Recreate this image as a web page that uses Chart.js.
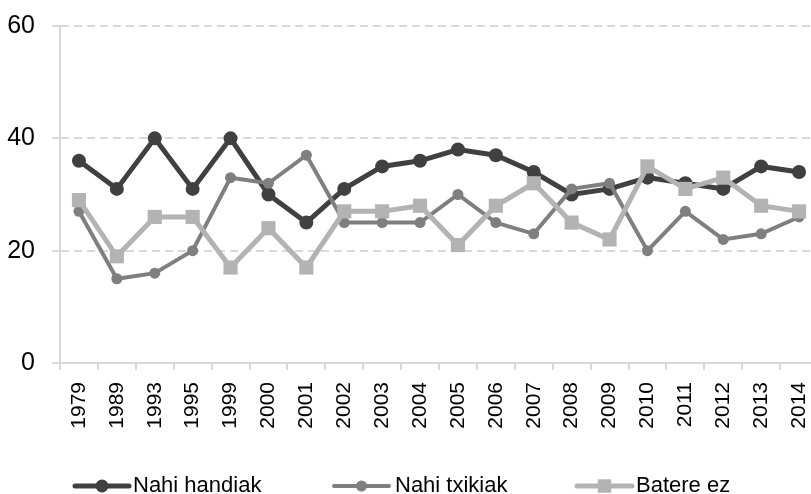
<!DOCTYPE html>
<html>
<head>
<meta charset="utf-8">
<script src="https://cdn.jsdelivr.net/npm/chart.js@4/dist/chart.umd.min.js"></script>
<style>
  html, body { margin: 0; padding: 0; background: #fff; overflow: hidden; }
  #wrap { width: 811px; height: 494px; overflow: hidden; position: relative; }
  #box { width: 820px; height: 494px; position: absolute; left: 0; top: 0; }
</style>
</head>
<body>
<div id="wrap"><div id="box"><canvas id="c"></canvas></div></div>
<script>
const years = ['1979','1989','1993','1995','1999','2000','2001','2002','2003','2004','2005','2006','2007','2008','2009','2010','2011','2012','2013','2014'];
const nahiHandiak = [36,31,40,31,40,30,25,31,35,36,38,37,34,30,31,33,32,31,35,34];
const nahiTxikiak = [27,15,16,20,33,32,37,25,25,25,30,25,23,31,32,20,27,22,23,26];
const batereEz    = [29,19,26,26,17,24,17,27,27,28,21,28,32,25,22,35,31,33,28,27];
const yTicks = [0,20,40,60];

const seriesNames = ['Nahi handiak','Nahi txikiak','Batere ez'];
const colors = ['#404040','#7f7f7f','#b3b3b3'];
const gridColor = '#d9d9d9';
const SANS = '"Liberation Sans", Arial, Helvetica, sans-serif';

const legendPlugin = {
  id: 'customLegend',
  afterDraw(chart) {
    const ctx = chart.ctx;
    const items = [
      {x0: 75, x1: 129, tx: 133, style: 'circle', r: 6.5, lw: 5},
      {x0: 334, x1: 389, tx: 395, style: 'circle', r: 5.5, lw: 4},
      {x0: 577, x1: 632, tx: 636, style: 'rect', r: 9.5, lw: 5}
    ];
    const y = 486;
    ctx.save();
    items.forEach((it, i) => {
      ctx.strokeStyle = colors[i];
      ctx.fillStyle = colors[i];
      ctx.lineWidth = it.lw;
      ctx.lineCap = 'round';
      ctx.beginPath();
      ctx.moveTo(it.x0, y);
      ctx.lineTo(it.x1, y);
      ctx.stroke();
      const cx = (it.x0 + it.x1) / 2;
      if (it.style === 'circle') {
        ctx.beginPath();
        ctx.arc(cx, y, it.r, 0, Math.PI * 2);
        ctx.fill();
      } else {
        const s = it.r * Math.SQRT1_2;
        ctx.fillRect(cx - s, y - s, 2 * s, 2 * s);
      }
      ctx.fillStyle = '#000';
      ctx.font = '22px ' + SANS;
      ctx.textBaseline = 'middle';
      ctx.textAlign = 'left';
      ctx.fillText(seriesNames[i], it.tx, y);
    });
    ctx.restore();
  }
};

function ds(label, data, i, style, radius, lw, order) {
  return {
    label, data,
    borderColor: colors[i],
    backgroundColor: colors[i],
    pointBackgroundColor: colors[i],
    pointBorderColor: colors[i],
    pointBorderWidth: 0,
    pointStyle: style,
    pointRadius: radius,
    pointHoverRadius: radius,
    borderWidth: lw,
    tension: 0,
    order
  };
}

function draw() {
  new Chart(document.getElementById('c'), {
    type: 'line',
    data: {
      labels: years,
      datasets: [
        ds(seriesNames[0], nahiHandiak, 0, 'circle', 7, 5, 3),
        ds(seriesNames[1], nahiTxikiak, 1, 'circle', 5.5, 4, 2),
        ds(seriesNames[2], batereEz, 2, 'rect', 10, 5, 1)
      ]
    },
    options: {
      responsive: true,
      maintainAspectRatio: false,
      animation: false,
      layout: { autoPadding: false, padding: { top: 26, right: 2, bottom: 0, left: 0 } },
      plugins: { legend: { display: false }, tooltip: { enabled: false } },
      scales: {
        x: {
          offset: true,
          grid: { offset: true, drawOnChartArea: false, drawTicks: true, tickLength: 7, color: gridColor, lineWidth: 2 },
          border: { display: true, color: gridColor, width: 2 },
          ticks: {
            autoSkip: false, maxRotation: 90, minRotation: 90, padding: 12,
            color: '#000', font: { family: SANS, size: 21 }
          },
          afterFit(scale) { scale.height = 131; scale.paddingLeft = 0; scale.paddingRight = 0; }
        },
        y: {
          min: 0, max: 60,
          afterBuildTicks(scale) { scale.ticks = yTicks.map(v => ({ value: v })); },
          grid: { color: gridColor, lineWidth: 2, tickLength: 8, drawTicks: true },
          border: { display: true, color: gridColor, width: 2, dash: [8, 5] },
          ticks: {
            padding: 17, color: '#000',
            font: { family: SANS, size: 25 }
          },
          afterFit(scale) { scale.width = 60; scale.paddingTop = 0; scale.paddingBottom = 0; }
        }
      }
    },
    plugins: [legendPlugin]
  });
}

const loads = ['21px "Liberation Sans"', '22px "Liberation Sans"', '25px "Liberation Sans"']
  .map(f => document.fonts.load(f).catch(() => null));
Promise.all(loads).then(draw, draw);
</script>
</body>
</html>
